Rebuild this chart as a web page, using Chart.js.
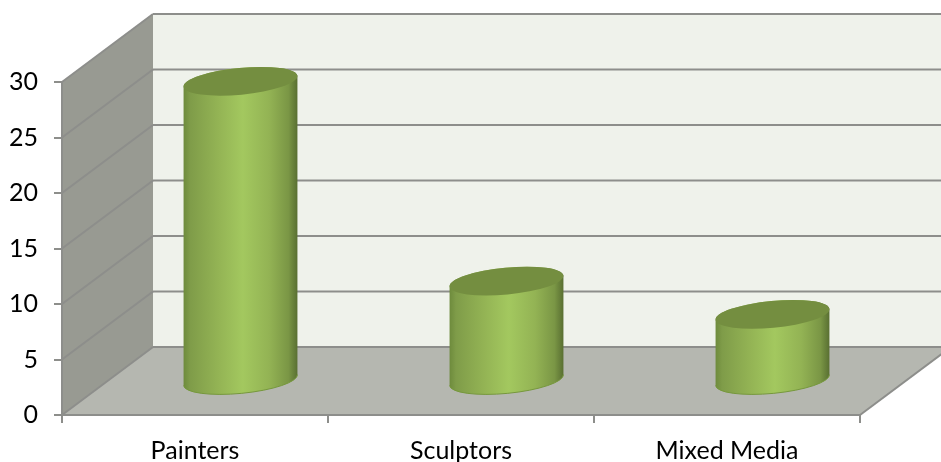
<!DOCTYPE html>
<html>
<head>
<meta charset="utf-8">
<style>
    html, body { margin: 0; padding: 0; background: #fff; }
    #wrap { width: 941px; height: 462px; }
</style>
<script src="https://cdn.jsdelivr.net/npm/chart.js@4"></script>
</head>
<body>
<div id="wrap"><canvas id="artists"></canvas></div>
<script>
const categories = ["Painters", "Sculptors", "Mixed Media"];
const artistCounts = [27, 9, 6];

const DEPTH_X = 91;
const DEPTH_Y = 68;
const LINE = "#8d8e8b";

function polygon(ctx, pts, fill) {
    ctx.beginPath();
    pts.forEach((p, i) => i ? ctx.lineTo(p[0], p[1]) : ctx.moveTo(p[0], p[1]));
    ctx.closePath();
    ctx.fillStyle = fill;
    ctx.fill();
}

function segment(ctx, x1, y1, x2, y2) {
    ctx.beginPath();
    ctx.moveTo(x1, y1);
    ctx.lineTo(x2, y2);
    ctx.stroke();
}

/* ---------------- WALLS AND FLOOR ---------------- */

const roomPlugin = {
    id: "room",
    beforeDatasetsDraw(chart) {
        const { ctx, chartArea: a, scales: { y } } = chart;
        const l = a.left, r = a.right, t = a.top, b = a.bottom;

        ctx.save();
        polygon(ctx, [[l + DEPTH_X, t - DEPTH_Y], [r + DEPTH_X, t - DEPTH_Y], [r + DEPTH_X, b - DEPTH_Y], [l + DEPTH_X, b - DEPTH_Y]], "#eff2eb");
        polygon(ctx, [[l, t], [l + DEPTH_X, t - DEPTH_Y], [l + DEPTH_X, b - DEPTH_Y], [l, b]], "#989a92");
        polygon(ctx, [[l, b], [l + DEPTH_X, b - DEPTH_Y], [r + DEPTH_X, b - DEPTH_Y], [r, b]], "#b5b7b0");

        ctx.strokeStyle = LINE;
        ctx.lineWidth = 2;
        y.ticks.forEach(tick => {
            const py = y.getPixelForValue(tick.value);
            segment(ctx, l, py, l + DEPTH_X, py - DEPTH_Y);
            segment(ctx, l + DEPTH_X, py - DEPTH_Y, r + DEPTH_X, py - DEPTH_Y);
        });
        segment(ctx, l, t, l, b);
        segment(ctx, l, b, r, b);
        segment(ctx, r, b, r + DEPTH_X, b - DEPTH_Y);
        ctx.restore();
    }
};

/* ---------------- CYLINDERS ---------------- */

const cylinderPlugin = {
    id: "cylinders",
    afterDatasetsDraw(chart) {
        const { ctx } = chart;
        const rot = -0.096;
        const ry = 13.4;

        ctx.save();
        chart.getDatasetMeta(0).data.forEach(bar => {
            const cx = bar.x + DEPTH_X / 2;
            const top = bar.y - DEPTH_Y / 2;
            const base = bar.base - DEPTH_Y / 2;
            const rx = bar.width / 2;

            const grad = ctx.createLinearGradient(cx - rx, 0, cx + rx, 0);
            grad.addColorStop(0, "#6d8a3c");
            grad.addColorStop(0.06, "#7f9c49");
            grad.addColorStop(0.3, "#93b354");
            grad.addColorStop(0.52, "#a3c85f");
            grad.addColorStop(0.75, "#93b354");
            grad.addColorStop(0.92, "#7a9645");
            grad.addColorStop(1, "#586e31");

            ctx.beginPath();
            ctx.ellipse(cx, base, rx, ry, rot, Math.PI, 0, true);
            ctx.ellipse(cx, top, rx, ry, rot, 0, Math.PI, true);
            ctx.closePath();
            ctx.fillStyle = grad;
            ctx.fill();

            ctx.beginPath();
            ctx.ellipse(cx, base, rx, ry, rot, Math.PI, 0, true);
            ctx.strokeStyle = "#76983c";
            ctx.lineWidth = 1;
            ctx.stroke();

            ctx.beginPath();
            ctx.ellipse(cx, top, rx, ry, rot, 0, Math.PI * 2);
            ctx.fillStyle = "#748e40";
            ctx.fill();
        });
        ctx.restore();
    }
};

/* ---------------- CHART ---------------- */

new Chart(document.getElementById("artists").getContext("2d"), {
    type: "bar",
    data: {
        labels: categories,
        datasets: [{
            label: "Artists",
            data: artistCounts,
            backgroundColor: "rgba(0,0,0,0)",
            categoryPercentage: 1,
            barPercentage: 0.43
        }]
    },
    options: {
        responsive: true,
        maintainAspectRatio: false,
        animation: false,
        layout: { padding: { top: 82, right: 81, bottom: 0, left: 0 } },
        plugins: {
            legend: { display: false },
            tooltip: { enabled: false }
        },
        scales: {
            x: {
                afterFit(scale) { scale.height = 47; },
                border: { display: false },
                grid: { drawOnChartArea: false, color: LINE, lineWidth: 2, tickLength: 8 },
                ticks: { color: "#000", font: { family: "Lato", size: 25 }, padding: 13, maxRotation: 0 }
            },
            y: {
                min: 0,
                max: 30,
                afterFit(scale) { scale.width = 62; },
                border: { display: false },
                grid: { drawOnChartArea: false, color: LINE, lineWidth: 2, tickLength: 8 },
                ticks: { stepSize: 5, color: "#000", font: { family: "Lato", size: 25 }, padding: 16 }
            }
        }
    },
    plugins: [roomPlugin, cylinderPlugin]
});
</script>
</body>
</html>
